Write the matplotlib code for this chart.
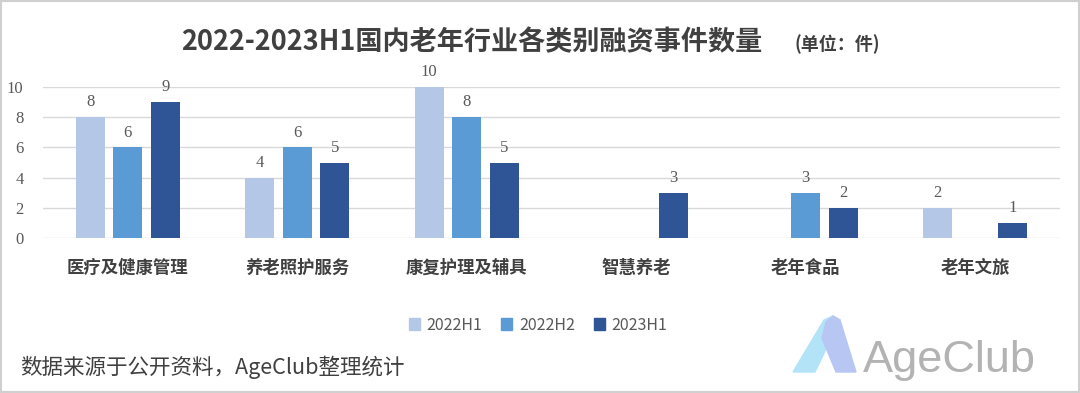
import matplotlib.pyplot as plt
import numpy as np
from matplotlib.patches import Rectangle, Polygon

plt.rcParams['font.family'] = ['Noto Sans CJK SC', 'DejaVu Sans']

categories = ['医疗及健康管理', '养老照护服务', '康复护理及辅具', '智慧养老', '老年食品', '老年文旅']
series_names = ['2022H1', '2022H2', '2023H1']
h1_2022 = [8, 4, 10, 0, 0, 2]
h2_2022 = [6, 6, 8, 0, 3, 0]
h1_2023 = [9, 5, 5, 3, 2, 1]
yticks = [0, 2, 4, 6, 8, 10]

colors = ['#b4c7e7', '#5b9bd5', '#2f5597']

W, H = 1080, 393
fig = plt.figure(figsize=(10.8, 3.93), dpi=100)

# axes placed in pixel terms
ax = fig.add_axes([43 / W, (H - 238) / H, (1060 - 43) / W, (238 - 87) / H])

x = np.arange(len(categories))
width = 0.171
step = 0.221
for i, (vals, c) in enumerate(zip([h1_2022, h2_2022, h1_2023], colors)):
    pos = x + (i - 1) * step
    bars = ax.bar(pos, vals, width, color=c, label=series_names[i], zorder=3)
    for b, v in zip(bars, vals):
        if v > 0:
            ax.text(b.get_x() + b.get_width() / 2, v + 0.45, str(v), ha='center', va='bottom',
                    fontsize=12, color='#595959', family='Liberation Serif', clip_on=False)

ax.set_xlim(-0.5, len(categories) - 0.5)
ax.set_ylim(0, 10)
ax.set_yticks(yticks)
ax.set_yticklabels([str(t) for t in yticks], family='Liberation Serif', fontsize=12, color='#595959')
ax.grid(axis='y', color='#d9d9d9', linewidth=1, zorder=0)
ax.tick_params(axis='y', length=0, pad=14)
ax.tick_params(axis='x', length=0, pad=15)
ax.set_xticks(x)
ax.set_xticklabels(categories, fontsize=12.5, fontweight='bold', color='#404040')
for s in ax.spines.values():
    s.set_visible(False)

# title
fig.text(472 / W, 1 - 42 / H, '2022-2023H1国内老年行业各类别融资事件数量', fontsize=19.5,
         fontweight='bold', color='#404040', ha='center', va='center')
fig.text(795 / W, 1 - 44 / H, '(单位：件)', fontsize=13, fontweight='bold',
         color='#404040', ha='left', va='center')

# legend
handles = [Rectangle((0, 0), 1, 1, color=c) for c in colors]
fig.legend(handles, series_names, loc='center', bbox_to_anchor=(538 / W, 1 - 325 / H), ncol=3,
           frameon=False, fontsize=11.5, handlelength=0.7, handleheight=0.7,
           handletextpad=0.4, columnspacing=1.2, labelcolor='#595959')

# source note
fig.text(20 / W, 1 - 367 / H, '数据来源于公开资料，AgeClub整理统计', fontsize=15.5,
         color='#404040', ha='left', va='center')

# logo
def px(xp, yp):
    return (xp / W, 1 - yp / H)

fig.patches.append(Polygon([px(793, 372), px(824, 320), px(833, 316), px(840, 320), px(815, 372)],
                           closed=True, color='#b3e3f7', transform=fig.transFigure))
fig.patches.append(Polygon([px(833, 316), px(840, 320), px(856, 372), px(836, 372), px(822, 338), px(826, 322)],
                           closed=True, color='#b7c6f2', transform=fig.transFigure))
fig.text(863 / W, 1 - 372 / H, 'AgeClub', fontsize=32.5, color='#b3b3b3', ha='left',
         va='baseline', family='Liberation Sans')

# border
fig.patches.append(Rectangle((0.001, 0.002), 0.998, 0.996, fill=False, edgecolor='#d0d0d0',
                             linewidth=1.5, transform=fig.transFigure))

fig.savefig('out.png', dpi=100)
